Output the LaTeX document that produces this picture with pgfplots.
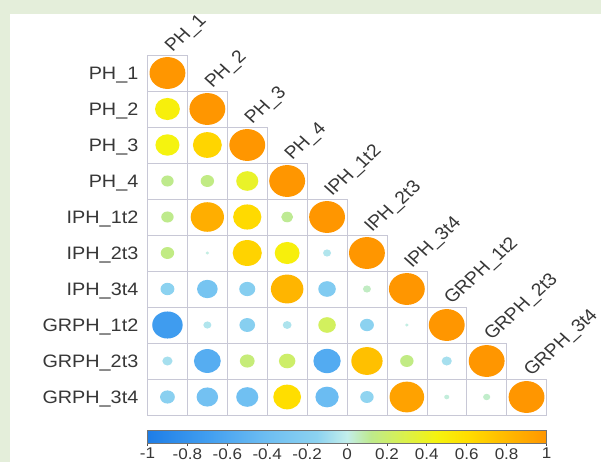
\documentclass[border=0pt]{standalone}
\usepackage{fontspec}
\setmainfont{Liberation Sans}
\usepackage{pgfplots}
\usepackage{pgfplotstable}
\pgfplotsset{compat=1.18}
\definecolor{bggreen}{RGB}{228,238,218}
\definecolor{lbl}{RGB}{55,55,55}
\definecolor{cellgray}{RGB}{200,200,214}
\pgfdeclareplotmark{ell}{\pgfpathellipse{\pgfpointorigin}{\pgfqpoint{1.125\pgfplotmarksize}{0pt}}{\pgfqpoint{0pt}{\pgfplotmarksize}}\pgfusepathqfill}
\pgfdeclareplotmark{cell}{\pgfpathrectangle{\pgfqpoint{-19.95bp}{-18bp}}{\pgfqpoint{39.9bp}{36bp}}\pgfusepathqstroke}

\pgfplotstableread{
x y r
1 1 1
1 2 0.48
2 2 1
1 3 0.45
2 3 0.65
3 3 1
1 4 0.12
2 4 0.14
3 4 0.38
4 4 1
1 5 0.12
2 5 0.86
3 5 0.62
4 5 0.11
5 5 1
1 6 0.14
2 6 0.01
3 6 0.66
4 6 0.48
5 6 -0.05
6 6 1
1 7 -0.15
2 7 -0.33
3 7 -0.20
4 7 0.82
5 7 -0.24
6 7 0.05
7 7 1
1 8 -0.72
2 8 -0.05
3 8 -0.19
4 8 -0.06
5 8 0.24
6 8 -0.15
7 8 0.01
8 8 1
1 9 -0.08
2 9 -0.56
3 9 0.17
4 9 0.21
5 9 -0.58
6 9 0.76
7 9 0.14
8 9 -0.08
9 9 1
1 10 -0.17
2 10 -0.36
3 10 -0.38
4 10 0.60
5 10 -0.42
6 10 -0.14
7 10 0.93
8 10 0.02
9 10 0.04
10 10 1
}\corrdata

\begin{document}
\begin{tikzpicture}
\fill[bggreen] (0,0) rectangle (601bp,462bp);
\fill[white] (10bp,0) rectangle (601bp,448bp);
\path[use as bounding box] (0,0) rectangle (601bp,462bp);
\begin{axis}[
  at={(147.5bp,47bp)}, anchor=south west,
  scale only axis, width=399bp, height=360bp,
  xmin=0.5, xmax=10.5, ymin=0.5, ymax=10.5, y dir=reverse,
  axis line style={draw=none},
  xtick=\empty, ytick={1,2,3,4,5,6,7,8,9,10},
  yticklabels={PH\_1,PH\_2,PH\_3,PH\_4,IPH\_1t2,IPH\_2t3,IPH\_3t4,GRPH\_1t2,GRPH\_2t3,GRPH\_3t4},
  major tick length=0pt,
  yticklabel style={anchor=base east, inner sep=0pt, xshift=-9bp, yshift=-6.3bp, xscale=1.1, font=\fontsize{18bp}{20bp}\selectfont, text=lbl},
  clip=false,
  colormap={corr}{rgb255(0pt)=(30,125,230) rgb255(150pt)=(65,158,240) rgb255(300pt)=(110,190,242) rgb255(425pt)=(140,210,240) rgb255(500pt)=(195,238,235) rgb255(560pt)=(190,234,140) rgb255(625pt)=(212,240,90) rgb255(725pt)=(245,243,15) rgb255(800pt)=(255,222,0) rgb255(890pt)=(255,188,0) rgb255(1000pt)=(255,150,0)},
  point meta min=-1, point meta max=1,
  colorbar horizontal,
  colorbar style={
    at={(parent axis.south west)}, anchor=north west, yshift=-6.7bp,
    scale only axis, width=399bp, height=13.3bp,
    axis line style={draw=black!55, line width=0.6bp},
    xtick={-1,-0.8,-0.6,-0.4,-0.2,0,0.2,0.4,0.6,0.8,1},
    xticklabels={-1,-0.8,-0.6,-0.4,-0.2,0,0.2,0.4,0.6,0.8,1},
    xtick pos=left, tick align=outside, major tick length=2.5bp,
    tick style={draw=black!70, line width=0.8bp},
    ytick=\empty,
    xticklabel style={font=\fontsize{15.5bp}{18bp}\selectfont, text=lbl, xscale=1.1, inner sep=0pt, yshift=-2bp},
  },
]
\addplot[only marks, mark=cell, mark options={draw=cellgray, line width=0.6bp}] table[x=x,y=y] {\corrdata};
\addplot[scatter, only marks, mark=ell, point meta=\thisrow{r},
  scatter/use mapped color={draw=none, fill=mapped color},
  visualization depends on={16*sqrt(abs(\thisrow{r})) \as \rad},
  scatter/@pre marker code/.append style={/tikz/mark size=\rad}] table[x=x,y=y] {\corrdata};
\addplot[draw=none, nodes near coords, point meta=explicit symbolic,
  nodes near coords style={anchor=base west, inner sep=0pt, xshift=5bp, yshift=2bp, xscale=1.1, rotate=45, font=\fontsize{17.7bp}{20bp}\selectfont, text=lbl}]
  coordinates {(1,0.5) [PH\_1] (2,1.5) [PH\_2] (3,2.5) [PH\_3] (4,3.5) [PH\_4] (5,4.5) [IPH\_1t2] (6,5.5) [IPH\_2t3] (7,6.5) [IPH\_3t4] (8,7.5) [GRPH\_1t2] (9,8.5) [GRPH\_2t3] (10,9.5) [GRPH\_3t4]};
\end{axis}
\end{tikzpicture}
\end{document}
